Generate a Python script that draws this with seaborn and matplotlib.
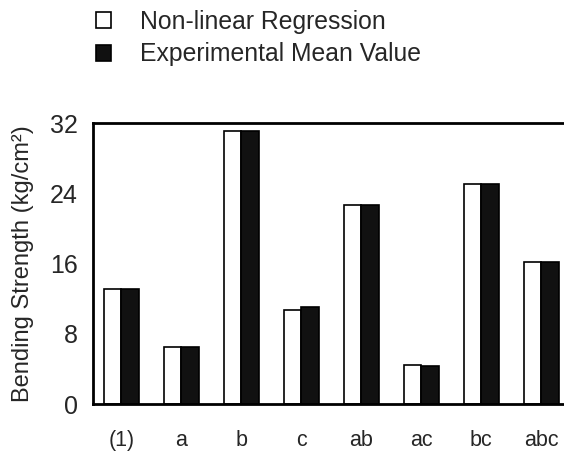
import matplotlib
matplotlib.use("Agg")
import matplotlib.pyplot as plt
import seaborn as sns
import pandas as pd

categories = ["(1)", "a", "b", "c", "ab", "ac", "bc", "abc"]
nonlinear = [13.1, 6.5, 31.1, 10.7, 22.7, 4.5, 25.1, 16.2]
experimental = [13.1, 6.5, 31.1, 11.1, 22.7, 4.3, 25.1, 16.2]
series_names = ["Non-linear Regression", "Experimental Mean Value"]
yticks = [0, 8, 16, 24, 32]

df = pd.DataFrame({
    "cat": categories * 2,
    "val": nonlinear + experimental,
    "series": [series_names[0]] * len(categories) + [series_names[1]] * len(categories),
})

sns.set_theme(style="white")
plt.rcParams["font.family"] = ["Liberation Sans", "DejaVu Sans"]

fig = plt.figure(figsize=(5.64, 4.54), dpi=100)
ax = fig.add_axes([0.165, 0.110, 0.835, 0.619])

sns.barplot(data=df, x="cat", y="val", hue="series", order=categories,
            hue_order=series_names, palette=["white", "#111111"],
            edgecolor="black", linewidth=1.2, width=0.58, gap=0,
            ax=ax, legend=True)

ax.set_xlim(-0.47, 7.38)
ax.set_ylim(0, 32)
ax.set_yticks(yticks)
ax.set_yticklabels([str(t) for t in yticks], fontsize=18)
ax.tick_params(axis="y", length=0, pad=11)
ax.tick_params(axis="x", length=0, pad=19, labelsize=15.5)
ax.set_xlabel("")
ax.set_ylabel("Bending Strength (kg/cm²)", fontsize=17)
ax.yaxis.set_label_coords(-0.125, 0.5)
for s in ["left", "top", "bottom"]:
    ax.spines[s].set_color("black")
    ax.spines[s].set_linewidth(2)
ax.spines["right"].set_visible(False)

handles, labels = ax.get_legend_handles_labels()
ax.get_legend().remove()
fig.legend(handles, labels, loc="upper left", bbox_to_anchor=(0.131, 1.028),
           frameon=False, fontsize=17.8, handlelength=0.6, handleheight=0.6,
           handletextpad=1.17, labelspacing=0.36)

fig.savefig("out.png", dpi=100)
